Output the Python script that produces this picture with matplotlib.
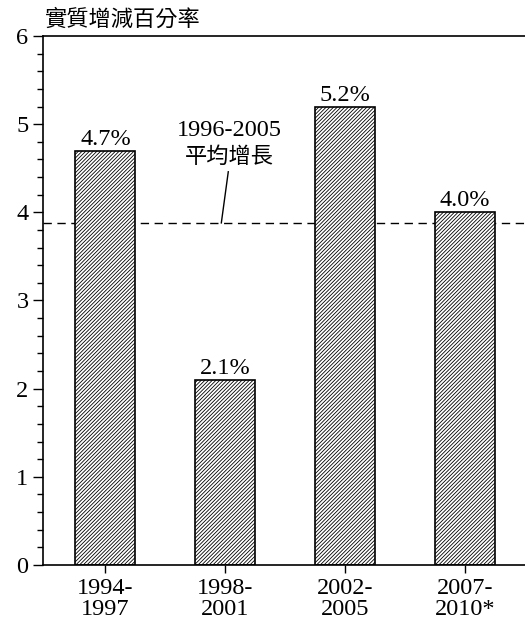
import matplotlib.pyplot as plt
import numpy as np
from matplotlib.ticker import MultipleLocator

plt.rcParams['hatch.linewidth'] = 0.6

periods = ['1994-\n1997', '1998-\n2001', '2002-\n2005', '2007-\n2010*']
growth = [4.7, 2.1, 5.2, 4.0]
labels = ['4.7%', '2.1%', '5.2%', '4.0%']
avg_9605 = 3.88

serif = ['Liberation Serif', 'DejaVu Serif']
cjk = ['Noto Sans CJK TC', 'DejaVu Sans']

fig = plt.figure(figsize=(5.25, 6.28), dpi=100)
ax = fig.add_axes([0.082, 0.1003, 0.918, 0.8424])

x = np.arange(len(growth))
ax.bar(x, growth, width=0.5, color='white', edgecolor='black', linewidth=1.2, hatch='/////////')
for xi, v, s in zip(x, growth, labels):
    ax.text(xi, v + 0.01, s, ha='center', va='bottom', fontsize=17.5, family=serif)

ax.axhline(avg_9605, color='black', lw=1, ls=(0, (6, 4)), zorder=0.5)
ax.text(1.03, 4.93, '1996-2005', ha='center', va='center', fontsize=17.5, family=serif)
ax.text(1.03, 4.63, '平均增長', ha='center', va='center', fontsize=16, family=cjk,
        fontweight='light')
ax.plot([1.025, 0.967], [4.46, avg_9605], color='black', lw=1)

ax.set_xlim(-0.52, 3.5)
ax.set_ylim(0, 6)
ax.set_xticks(x)
ax.set_xticklabels(periods, fontsize=17.5, family=serif, linespacing=1.0)
ax.yaxis.set_major_locator(MultipleLocator(1))
ax.yaxis.set_minor_locator(MultipleLocator(0.2))
for lab in ax.get_yticklabels():
    lab.set_family(serif)
    lab.set_fontsize(17.5)
ax.tick_params(axis='y', which='major', length=7, width=1)
ax.tick_params(axis='y', which='minor', length=4, width=1)
ax.tick_params(axis='x', length=6, width=1)
ax.spines['right'].set_visible(False)
for sp in ['left', 'top', 'bottom']:
    ax.spines[sp].set_linewidth(1.2)

fig.text(0.086, 0.970, '實質增減百分率', ha='left', va='center', fontsize=16, family=cjk,
         fontweight='light')

fig.savefig('out.png', dpi=100)
